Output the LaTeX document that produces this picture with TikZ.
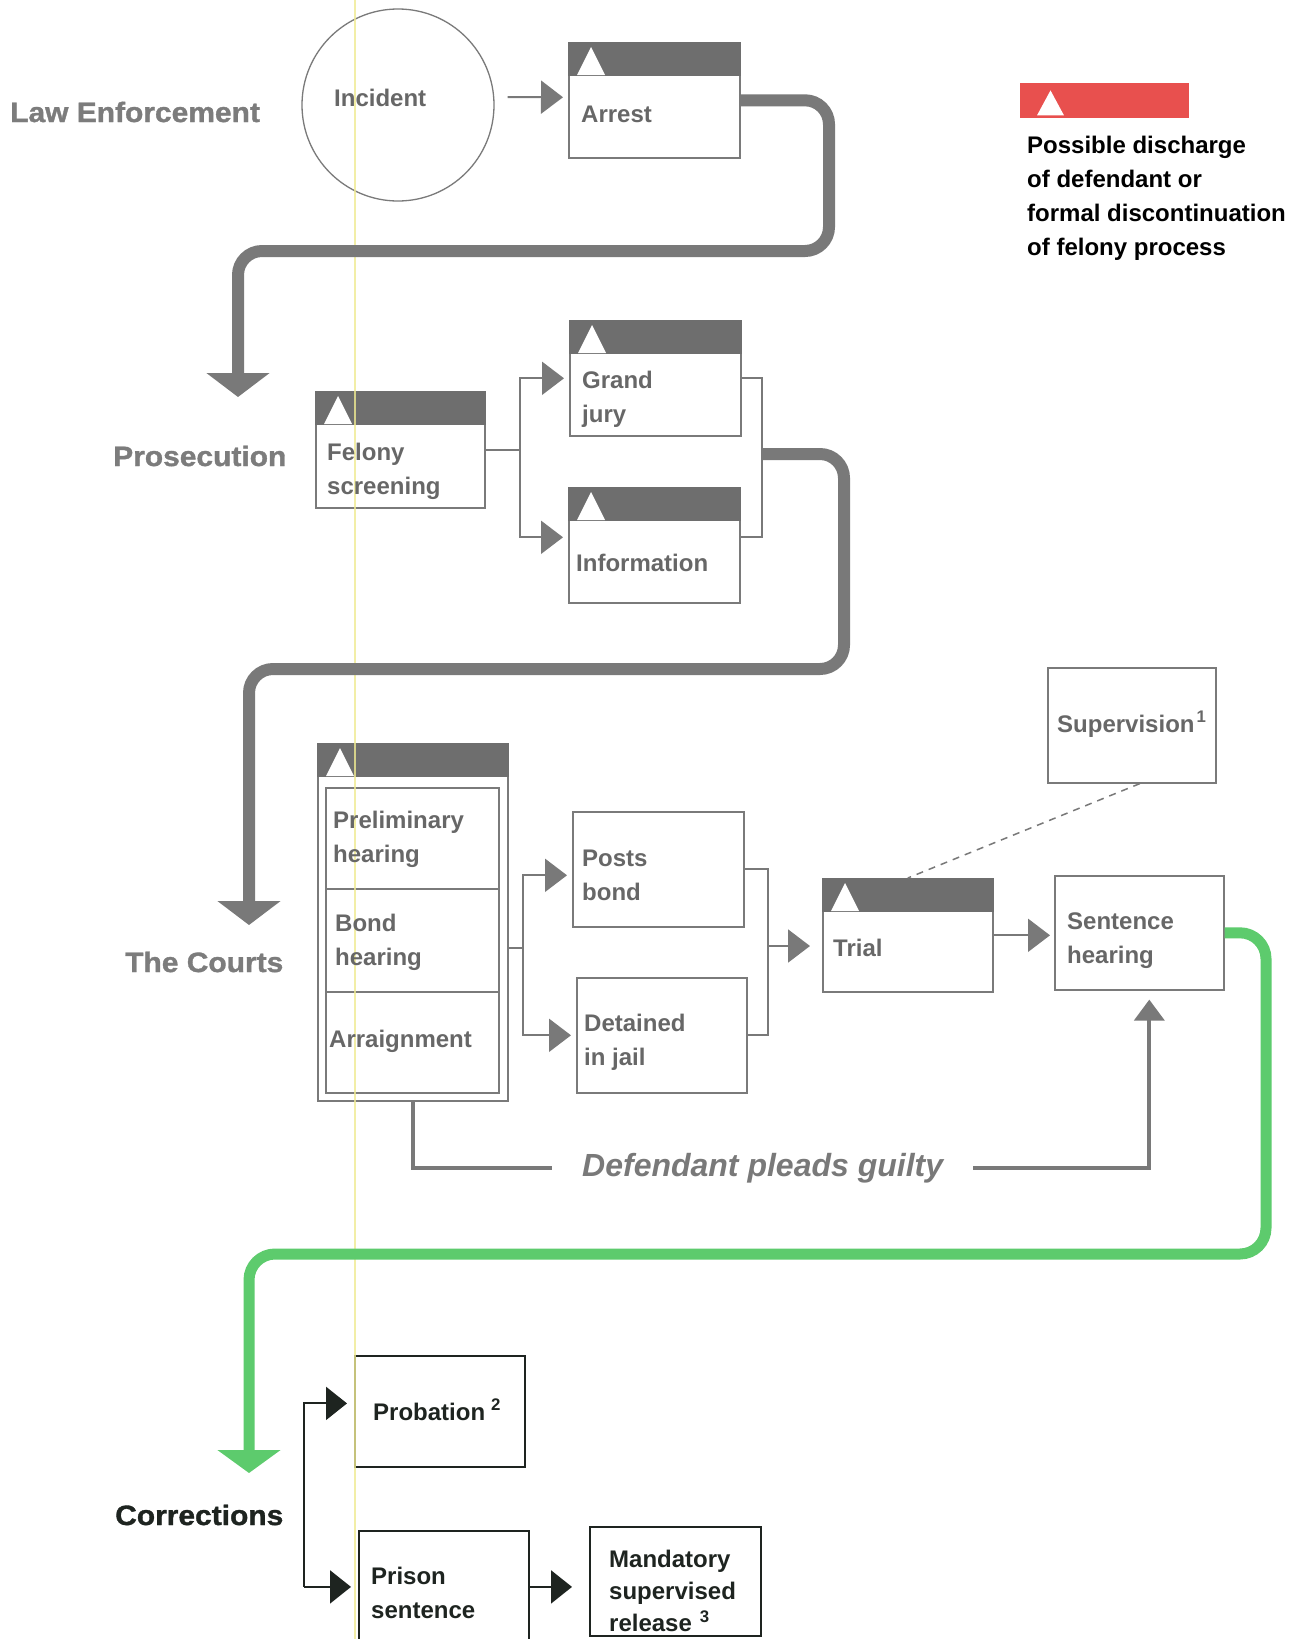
\documentclass[tikz,border=0pt]{standalone}
\usepackage{fontspec}
\setmainfont{Liberation Sans}
\newfontfamily\widefont{Liberation Sans Bold}[FakeStretch=1.07,FakeBold=1.2]
\usetikzlibrary{arrows.meta,calc}
\definecolor{hdrc}{HTML}{6E6E6E}
\definecolor{bord}{HTML}{7A7A7A}
\definecolor{tgray}{HTML}{676767}
\definecolor{lgray}{HTML}{7C7C7C}
\definecolor{pgray}{HTML}{797979}
\definecolor{grn}{HTML}{5DCB6D}
\definecolor{legred}{HTML}{E8504E}
\definecolor{dk}{HTML}{1E2420}
\definecolor{scanyel}{HTML}{EFEA92}
\newcommand\drawheader[1]{%
  \fill[hdrc] (#1.north west) rectangle ($(#1.north east)+(0,34)$);
  \fill[white] ($(#1.north west)+(9,33)$) -- ++(28,0) -- ++(-14,-28) -- cycle;}
\begin{document}
\begin{tikzpicture}[x=1pt,y=-1pt,
  box/.style={draw=bord, line width=1.6pt, fill=white, anchor=north west, inner sep=0pt},
  dbox/.style={draw=dk, line width=1.8pt, fill=white, anchor=north west, inner sep=0pt},
  txt/.style={font=\fontsize{24}{34}\selectfont\bfseries, text=tgray, align=left, inner sep=0pt, anchor=north west},
  dtxt/.style={txt, text=dk},
  lab/.style={font=\widefont\fontsize{28}{34}\selectfont, text=lgray, inner sep=0pt, anchor=base west},
  conn/.style={draw=pgray, line width=2pt},
  carr/.style={conn, -{Triangle[length=22pt,width=33pt]}, shorten >=5pt},
  mid/.style={draw=pgray, line width=4pt},
  bigg/.style={draw=pgray, line width=12pt, rounded corners=24pt, -{Triangle[length=24pt,width=62pt]}},
  grnarr/.style={draw=grn, line width=11pt, rounded corners=26pt, -{Triangle[length=23pt,width=62pt]}},
  darr/.style={draw=dk, line width=2pt, -{Triangle[length=21pt,width=33pt]}, shorten >=7pt}
]
\fill[white] (0,0) rectangle (1303,1639);
\useasboundingbox (0,0) rectangle (1303,1639);

% ---------- boxes ----------
\node[circle, draw=bord, line width=1.3pt, minimum size=192pt, inner sep=0pt] (incident) at (398,105) {};
\node[box, minimum width=171pt, minimum height=115pt] (arrest) at (568,42) {};
\drawheader{arrest}
\node[box, minimum width=169pt, minimum height=116pt] (felony) at (315,391) {};
\drawheader{felony}
\node[box, minimum width=171pt, minimum height=115pt] (grand) at (569,320) {};
\drawheader{grand}
\node[box, minimum width=171pt, minimum height=115pt] (info) at (568,487) {};
\drawheader{info}
\node[box, minimum width=190pt, minimum height=357pt] (cbox) at (317,743) {};
\drawheader{cbox}
\node[box, minimum width=173pt, minimum height=101pt] (prelim) at (325,787) {};
\node[box, minimum width=173pt, minimum height=103pt] (bondh) at (325,888) {};
\node[box, minimum width=173pt, minimum height=101pt] (arraign) at (325,991) {};
\node[box, minimum width=171pt, minimum height=115pt] (posts) at (572,811) {};
\node[box, minimum width=170pt, minimum height=115pt] (detained) at (576,977) {};
\node[box, minimum width=170pt, minimum height=113pt] (trial) at (822,878) {};
\drawheader{trial}
\node[box, minimum width=169pt, minimum height=114pt] (sentence) at (1054,875) {};
\node[box, minimum width=168pt, minimum height=115pt] (sup) at (1047,667) {};
\node[dbox, minimum width=170pt, minimum height=111pt] (prob) at (354,1355) {};
\node[dbox, minimum width=170pt, minimum height=112pt] (prison) at (358,1530) {};
\node[dbox, minimum width=171pt, minimum height=109pt] (mand) at (589,1526) {};

% legend bar
\node[fill=legred, anchor=north west, minimum width=169pt, minimum height=35pt, inner sep=0pt] (legbar) at (1020,83) {};
\fill[white] ($(legbar.south west)+(17,-3)$) -- ++(27,0) -- ++(-13.5,-25) -- cycle;

% scan streak
\draw[scanyel, line width=1.5pt, opacity=0.8] (355,0) -- (355,1639);

% ---------- connectors ----------
\draw[carr] ($(incident.east)+(13,-8)$) -- ($(arrest.west)+(0,-3)$);

\coordinate (w1) at (829,251);
\coordinate (pe1) at (238,397);
\draw[bigg] (arrest.east) -| (w1) -| (pe1);

\coordinate (j1) at (520,449);
\draw[conn] (felony.east) -- (felony.east -| j1);
\draw[carr] (felony.east -| j1) |- (grand.west);
\draw[carr] (felony.east -| j1) |- ($(info.west)+(0,-8)$);
\coordinate (m1) at (762,454);
\draw[conn] (grand.east) -| (m1) |- ($(info.east)+(0,-8)$);

\coordinate (w2) at (844,669);
\coordinate (pe2) at (249,925);
\draw[bigg] (m1) -| (w2) -| (pe2);

\coordinate (j2) at (523,948);
\draw[conn] (cbox.east |- j2) -- (j2);
\draw[carr] (j2) |- ($(posts.west)+(0,6)$);
\draw[carr] (j2) |- (detained.west);
\coordinate (m2) at (768,946);
\draw[conn] (posts.east) -| (m2) |- (detained.east);
\draw[carr, shorten >=12pt] (m2) -- (trial.west |- m2);
\draw[carr, shorten >=4pt] (trial.east) -- (trial.east -| sentence.west);

\draw[conn, line width=1.5pt, dash pattern=on 7pt off 6pt] ($(sup.south)+(8,0)$) -- (trial.north);

\node[font=\fontsize{32}{36}\selectfont\bfseries\itshape, text=pgray, inner xsep=30pt, inner ysep=0pt, anchor=base west] (guilty) at (552,1176) {Defendant pleads guilty};
\draw[mid] (cbox.south) |- (guilty.west);
\draw[mid, -{Triangle[length=21pt,width=30pt]}, shorten >=9pt] (guilty.east) -| ($(sentence.south)+(10,0)$);

\coordinate (w3) at (1266,1254);
\coordinate (pe3) at (249,1473);
\draw[grnarr] (sentence.east) -| (w3) -| (pe3);

\draw[darr] ($(prison.west)+(-54,0)$) |- ($(prob.west)+(0,-8)$);
\draw[darr] ($(prison.west)+(-54,0)$) -- (prison.west);
\draw[darr, shorten >=17pt] (prison.east) -- (prison.east -| mand.west);

% ---------- texts ----------
\node[lab] (le) at (10,122) {Law Enforcement};
\node[lab] (pros) at (113,466) {Prosecution};
\node[lab] (courts) at (125,972) {The Courts};
\node[lab, text=dk] (corr) at (115,1525) {Corrections};

\node[txt] (incident-t) at (334,82) {\strut Incident};
\node[txt] (arrest-t) at (581,98) {\strut Arrest};
\node[txt] (felony-t) at (327,436) {\strut Felony\\\strut screening};
\node[txt] (grand-t) at (582,364) {\strut Grand\\\strut jury};
\node[txt] (info-t) at (576,547) {\strut Information};
\node[txt] (prelim-t) at (333,804) {\strut Preliminary\\\strut hearing};
\node[txt] (bondh-t) at (335,907) {\strut Bond\\\strut hearing};
\node[txt] (arraign-t) at (329,1023) {\strut Arraignment};
\node[txt] (posts-t) at (582,842) {\strut Posts\\\strut bond};
\node[txt] (detained-t) at (584,1007) {\strut Detained\\\strut in jail};
\node[txt] (trial-t) at (833,932) {\strut Trial};
\node[txt] (sentence-t) at (1067,905) {\strut Sentence\\\strut hearing};
\node[txt] (sup-t) at (1057,708) {\strut Supervision\kern2pt\textsuperscript{1}};
\node[txt, text=black] (leg-t) at (1027,129) {\strut Possible discharge\\\strut of defendant or\\\strut formal discontinuation\\\strut of felony process};
\node[dtxt] (prob-t) at (373,1396) {\strut Probation\kern6pt\textsuperscript{2}};
\node[dtxt] (prison-t) at (371,1560) {\strut Prison\\\strut sentence};
\node[dtxt, font=\fontsize{24}{32}\selectfont\bfseries] (mand-t) at (609,1545) {\strut Mandatory\\\strut supervised\\\strut release\kern8pt\textsuperscript{3}};
\end{tikzpicture}
\end{document}
